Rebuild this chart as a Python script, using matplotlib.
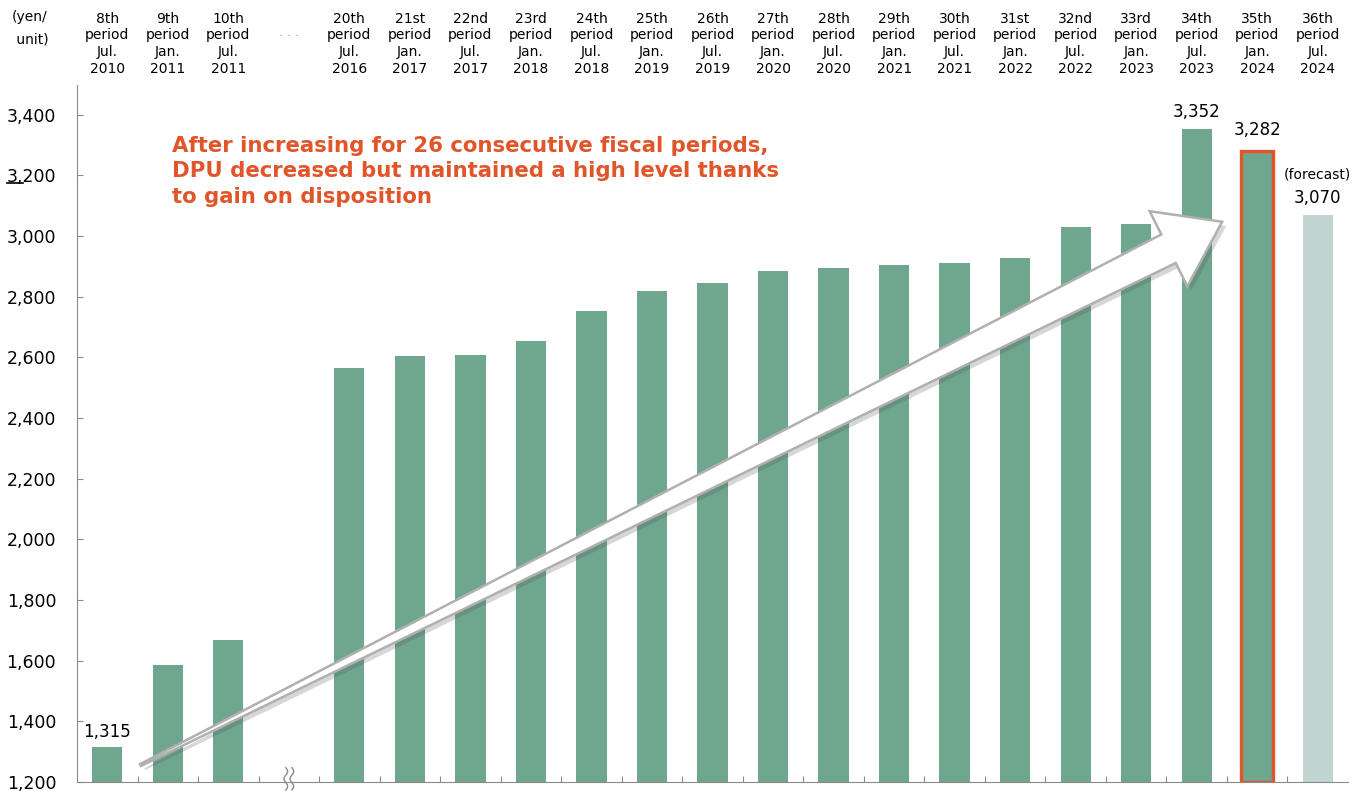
import numpy as np
import matplotlib.pyplot as plt
from matplotlib import patheffects as pe
from matplotlib.lines import Line2D
from matplotlib.patches import Polygon
from matplotlib.transforms import IdentityTransform

# Distribution per unit by fiscal period (yen/unit); None = axis break slot
periods = ["8th", "9th", "10th", None, "20th", "21st", "22nd", "23rd", "24th",
           "25th", "26th", "27th", "28th", "29th", "30th", "31st", "32nd",
           "33rd", "34th", "35th", "36th"]
months = ["Jul.", "Jan.", "Jul.", None, "Jul.", "Jan.", "Jul.", "Jan.", "Jul.",
          "Jan.", "Jul.", "Jan.", "Jul.", "Jan.", "Jul.", "Jan.", "Jul.",
          "Jan.", "Jul.", "Jan.", "Jul."]
years = ["2010", "2011", "2011", None, "2016", "2017", "2017", "2018", "2018",
         "2019", "2019", "2020", "2020", "2021", "2021", "2022", "2022",
         "2023", "2023", "2024", "2024"]
dpu = [1315, 1586, 1668, None, 2565, 2605, 2608, 2654, 2753, 2819, 2846,
       2885, 2895, 2905, 2912, 2928, 3030, 3040, 3352, 3282, 3070]
labelled = {0: "1,315", 18: "3,352", 19: "3,282", 20: "3,070"}

green = "#6fa68e"
light = "#c0d5d2"
orange = "#e0562a"
grey = "#8a8a8a"

fig = plt.figure(figsize=(13.61, 7.91), dpi=100)
ax = fig.add_axes([77 / 1361, 1 - 782 / 791, (1348 - 77) / 1361, (782 - 85) / 791])

for i, v in enumerate(dpu):
    if v is None:
        continue
    col = light if i == len(dpu) - 1 else green
    ax.bar(i, v - 1200, bottom=1200, width=0.5, color=col, zorder=2)
    if i == 19:
        ax.bar(i, v - 1200, bottom=1200, width=0.52, facecolor="none",
               edgecolor=orange, linewidth=2.4, zorder=3)

ax.set_xlim(-0.5, len(periods) - 0.5)
ax.set_ylim(1200, 3498)
ax.set_yticks(range(1200, 3401, 200))
ax.set_yticklabels([f"{t:,}" for t in range(1200, 3401, 200)], fontsize=12.5)
ax.set_xticks(np.arange(0.5, len(periods) - 1, 1))
ax.set_xticklabels([])
ax.tick_params(axis="x", direction="in", length=4, color=grey)
ax.tick_params(axis="y", direction="in", length=4, color=grey, pad=15)
for s in ["top", "right"]:
    ax.spines[s].set_visible(False)
for s in ["left", "bottom"]:
    ax.spines[s].set_color(grey)

# header labels above the axes
xt = ax.get_xaxis_transform()
for i, p in enumerate(periods):
    if p is None:
        ax.text(i, 1.07, "· · ·", transform=xt, ha="center", va="center",
                fontsize=9, color=grey)
        continue
    ax.text(i, 1.013, f"{p}\nperiod\n{months[i]}\n{years[i]}", transform=xt,
            ha="center", va="bottom", fontsize=10, linespacing=1.25)
fig.text(30 / 1361, 1 - 10 / 791, "(yen/\n unit)", ha="center", va="top",
         fontsize=10, linespacing=1.75)

# axis break mark
t = np.linspace(0, 1, 40)
for dx in (-0.05, 0.05):
    ax.plot(3 + dx + 0.03 * np.sin(t * 2 * np.pi * 1.5), -0.0115 + t * 0.032,
            transform=xt, color=grey, lw=1, clip_on=False, zorder=4)

# value labels
offs = {0: 50, 18: 56, 19: 66, 20: 56}
for i, lab in labelled.items():
    ax.text(i, dpu[i] + offs[i], lab, ha="center", va="center", fontsize=12)
ax.text(20, 3070 + 132, "(forecast)", ha="center", va="center", fontsize=10)

# big arrow, built in pixel space between two data anchors
fig.canvas.draw()
p0 = ax.transData.transform((0.55, 1256))
p1 = ax.transData.transform((18.42, 3047))
d = p1 - p0
L = np.hypot(*d)
u = d / L
n = np.array([-u[1], u[0]])
hl, hw, sw0, sw1 = 60, 42, 1.0, 16
base = p1 - u * hl
pts = [p0 - n * sw0, base - n * sw1, base - n * hw, p1,
       base + n * hw, base + n * sw1, p0 + n * sw0]
arrow = Polygon(pts, closed=True, transform=IdentityTransform(), fc="white",
                ec="#b0b0b0", lw=1.8, zorder=5, joinstyle="miter",
                path_effects=[pe.SimplePatchShadow(offset=(3, -3), alpha=0.22),
                              pe.Normal()])
fig.add_artist(arrow)

ax.text(1.07, 3330, "After increasing for 26 consecutive fiscal periods,\n"
        "DPU decreased but maintained a high level thanks\nto gain on disposition",
        ha="left", va="top", fontsize=15.3, fontweight="bold", color=orange,
        linespacing=1.34, zorder=6)

# small underline mark under "3," of the 3,200 label
fig.add_artist(Line2D([7 / 1361, 23 / 1361], [1 - 183 / 791] * 2, color="black", lw=1.2))

fig.savefig("out.png", dpi=100)
